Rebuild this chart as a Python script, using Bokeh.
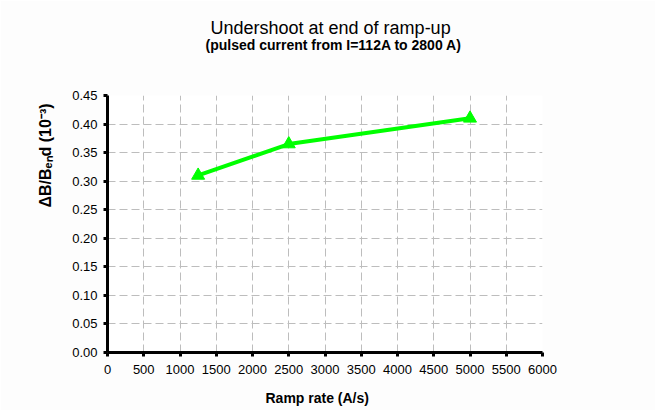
from bokeh.plotting import figure
from bokeh.models import Range1d, FixedTicker, NumeralTickFormatter, Title
from bokeh.embed import file_html
from bokeh.resources import INLINE

# ---- data ----
ramp_rate = [1250, 2500, 5000]          # A/s
undershoot = [0.31, 0.365, 0.41]        # dB/B_end (1e-3)
x_ticks = list(range(0, 6001, 500))
y_ticks = [round(0.05 * i, 2) for i in range(10)]

title_text = "Undershoot at end of ramp-up"
subtitle_text = "(pulsed current from I=112A to 2800 A)"
x_label = "Ramp rate (A/s)"
y_label = "\u0394B/B\u2091\u2099d (10\u207b\u00b3)"

FONT = "Liberation Sans"

W, H = 655, 410
p = figure(width=W, height=H, output_backend="svg", toolbar_location=None,
           x_range=Range1d(0, 6000), y_range=Range1d(0, 0.45),
           min_border_left=107, min_border_right=113,
           min_border_top=95, min_border_bottom=58)

p.border_fill_color = "#fdfdfd"
p.background_fill_color = None
p.outline_line_color = None

# axes
for ax in (p.xaxis[0], p.yaxis[0]):
    ax.axis_line_width = 3
    ax.axis_line_color = "black"
    ax.major_tick_line_width = 3
    ax.major_tick_line_color = "black"
    ax.major_tick_in = 0
    ax.major_tick_out = 4
    ax.minor_tick_line_color = None
    ax.major_label_text_font = FONT
    ax.major_label_text_font_size = "13px"
    ax.major_label_text_color = "black"

p.xaxis.ticker = FixedTicker(ticks=x_ticks)
p.yaxis.ticker = FixedTicker(ticks=y_ticks)
p.yaxis.formatter = NumeralTickFormatter(format="0.00")
p.xaxis.formatter = NumeralTickFormatter(format="0")
p.xaxis.major_label_standoff = 8
p.yaxis.major_label_standoff = 6

p.xaxis.axis_label = x_label + "\u00a0" * 4
p.xaxis.axis_label_text_font = FONT
p.xaxis.axis_label_text_font_size = "14px"
p.xaxis.axis_label_text_font_style = "bold"
p.xaxis.axis_label_text_color = "black"
p.xaxis.axis_label_standoff = 13

for g in (p.xgrid[0], p.ygrid[0]):
    g.grid_line_color = "#bdbdbd"
    g.grid_line_dash = "8 4"
    g.grid_line_width = 1

# data
p.line(ramp_rate, undershoot, line_color="#00ff00", line_width=4)
p.scatter(ramp_rate, undershoot, marker="triangle", size=13,
          fill_color="#00ff00", line_color="#00ff00")

# titles (spacer, subtitle, title stacked upwards from the plot frame)
p.add_layout(Title(text=" ", text_font_size="1px", standoff=40), "above")
p.add_layout(Title(text=subtitle_text, text_font=FONT, text_font_size="14px",
                   text_font_style="bold", align="left", offset=98,
                   text_color="black", standoff=0),
             "above")
p.add_layout(Title(text=title_text, text_font=FONT, text_font_size="18px",
                   text_font_style="normal", align="left", offset=103,
                   text_color="black", standoff=-6),
             "above")

# y axis title
p.add_layout(Title(text=y_label, text_font=FONT, text_font_size="16px",
                   text_font_style="bold", align="left", offset=145,
                   vertical_align="bottom", standoff=31, text_color="black"),
             "left")

open("out.html", "w").write(file_html(p, INLINE))
